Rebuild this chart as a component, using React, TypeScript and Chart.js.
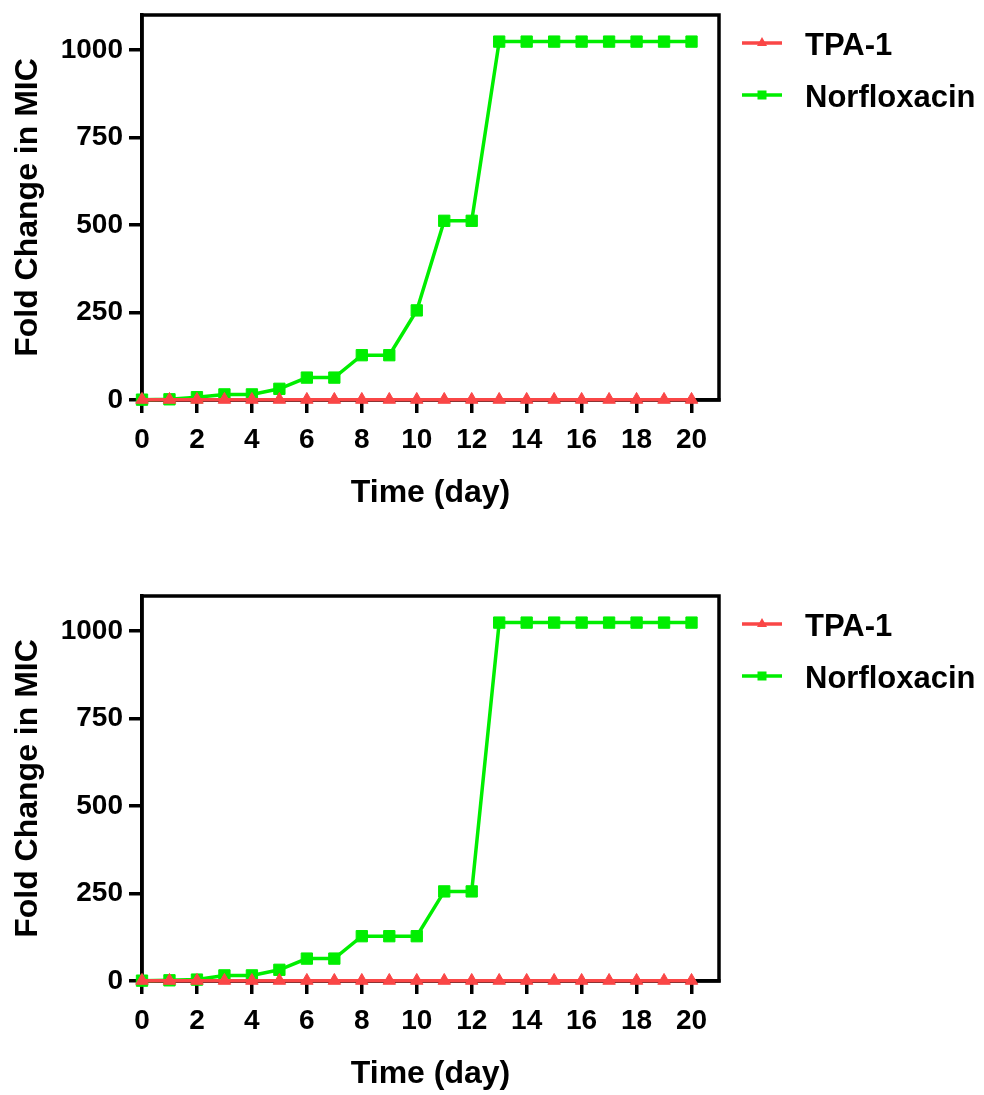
import React, { useEffect, useRef } from 'react';
import { Chart, registerables } from 'chart.js';

Chart.register(...registerables);

// ---------- data ----------
const days = [0, 1, 2, 3, 4, 5, 6, 7, 8, 9, 10, 11, 12, 13, 14, 15, 16, 17, 18, 19, 20];
const xTicks = [0, 2, 4, 6, 8, 10, 12, 14, 16, 18, 20];
const yTicks = [0, 250, 500, 750, 1000];
const seriesNames = ['TPA-1', 'Norfloxacin'];

const tpa1Top = [1, 1, 1, 1, 1, 1, 1, 1, 1, 1, 1, 1, 1, 1, 1, 1, 1, 1, 1, 1, 1];
const norfloxacinTop = [1, 2, 8, 16, 16, 32, 64, 64, 128, 128, 256, 512, 512, 1024, 1024, 1024, 1024, 1024, 1024, 1024, 1024];

const tpa1Bottom = [1, 1, 1, 1, 1, 1, 1, 1, 1, 1, 1, 1, 1, 1, 1, 1, 1, 1, 1, 1, 1];
const norfloxacinBottom = [1, 2, 4, 16, 16, 32, 64, 64, 128, 128, 128, 256, 256, 1024, 1024, 1024, 1024, 1024, 1024, 1024, 1024];

const xTitle = 'Time (day)';
const yTitle = 'Fold Change in MIC';

// ---------- style ----------
const FONT = '"Liberation Sans", Arial, Helvetica, sans-serif';
const RED = 'rgb(250, 70, 70)';
const GREEN = 'rgb(0, 238, 0)';
const CANVAS_W = 984;
const CANVAS_H = 581;
const AXIS_W = 3.5;

const framePlugin = {
  id: 'frame',
  beforeDatasetsDraw(chart: any) {
    const { ctx, chartArea } = chart;
    const { left, top, right, bottom } = chartArea;
    ctx.save();
    ctx.strokeStyle = '#000';
    ctx.lineWidth = AXIS_W;
    ctx.lineJoin = 'miter';
    ctx.strokeRect(left, top, right - left, bottom - top);
    ctx.restore();
  },
};

const legendPlugin = {
  id: 'customLegend',
  afterDraw(chart: any) {
    const { ctx } = chart;
    ctx.save();
    chart.data.datasets.forEach((ds: any, i: number) => {
      const y = 43 + 52 * i;
      ctx.strokeStyle = ds.borderColor;
      ctx.lineWidth = 3.5;
      ctx.beginPath();
      ctx.moveTo(742, y);
      ctx.lineTo(782, y);
      ctx.stroke();
      ctx.fillStyle = ds.borderColor;
      if (ds.pointStyle === 'triangle') {
        ctx.beginPath();
        ctx.moveTo(762, y - 6);
        ctx.lineTo(767, y + 3);
        ctx.lineTo(757, y + 3);
        ctx.closePath();
        ctx.fill();
      } else {
        ctx.fillRect(757.5, y - 4.5, 9, 9);
      }
      ctx.fillStyle = '#000';
      ctx.font = `bold 31px ${FONT}`;
      ctx.textAlign = 'left';
      ctx.textBaseline = 'alphabetic';
      ctx.fillText(ds.label, 805, y + 12);
    });
    ctx.restore();
  },
};

function axisCommon() {
  return {
    grid: {
      display: true,
      drawOnChartArea: false,
      drawTicks: true,
      tickLength: 13,
      tickWidth: AXIS_W,
      tickColor: '#000',
      lineWidth: AXIS_W,
      color: '#000',
    },
    border: { display: true, width: AXIS_W, color: '#000' },
  };
}

function zeroPad(s: any) {
  s.paddingTop = 0;
  s.paddingBottom = 0;
  s.paddingLeft = 0;
  s.paddingRight = 0;
}

function ChartPanel({ tpa, nor, top }: { tpa: number[]; nor: number[]; top: number }) {
  const ref = useRef<HTMLCanvasElement | null>(null);

  useEffect(() => {
    if (!ref.current) return;
    const chart = new Chart(ref.current, {
      type: 'line',
      data: {
        datasets: [
          {
            label: seriesNames[0],
            data: days.map((d, i) => ({ x: d, y: tpa[i] })),
            borderColor: RED,
            backgroundColor: RED,
            borderWidth: 3.5,
            pointStyle: 'triangle',
            pointRadius: 7.2,
            pointBorderWidth: 1,
            pointBackgroundColor: RED,
            pointBorderColor: RED,
            tension: 0,
            clip: false,
          } as any,
          {
            label: seriesNames[1],
            data: days.map((d, i) => ({ x: d, y: nor[i] })),
            borderColor: GREEN,
            backgroundColor: GREEN,
            borderWidth: 3.5,
            pointStyle: 'rect',
            pointRadius: 8,
            pointBorderWidth: 1,
            pointBackgroundColor: GREEN,
            pointBorderColor: GREEN,
            tension: 0,
            clip: false,
          } as any,
        ],
      },
      options: {
        animation: false,
        responsive: false,
        maintainAspectRatio: false,
        devicePixelRatio: 1,
        layout: { padding: { top: 15, right: 265, left: 0, bottom: 0 } },
        plugins: {
          legend: { display: false },
          tooltip: { enabled: false },
        },
        scales: {
          x: {
            type: 'linear',
            min: 0,
            max: 21,
            afterFit: (s: any) => {
              s.height = 181;
              zeroPad(s);
            },
            afterBuildTicks: (s: any) => {
              s.ticks = xTicks.map((v) => ({ value: v }));
            },
            ...axisCommon(),
            ticks: {
              color: '#000',
              font: { family: FONT, size: 28, weight: 'bold' },
              padding: 10,
              maxRotation: 0,
              autoSkip: false,
              callback: (v: any) => String(v),
            },
            title: {
              display: true,
              text: xTitle,
              color: '#000',
              font: { family: FONT, size: 32, weight: 'bold' },
              padding: { top: 0, bottom: 69 },
            },
          },
          y: {
            type: 'linear',
            min: 0,
            max: 1100,
            afterFit: (s: any) => {
              s.width = 142;
              zeroPad(s);
            },
            afterBuildTicks: (s: any) => {
              s.ticks = yTicks.map((v) => ({ value: v }));
            },
            ...axisCommon(),
            ticks: {
              color: '#000',
              font: { family: FONT, size: 28, weight: 'bold' },
              padding: 6,
              autoSkip: false,
              callback: (v: any) => String(v),
            },
            title: {
              display: true,
              text: yTitle,
              color: '#000',
              font: { family: FONT, size: 32, weight: 'bold' },
              padding: { top: 9, bottom: 0 },
            },
          },
        },
      } as any,
      plugins: [framePlugin, legendPlugin],
    });
    return () => chart.destroy();
  }, [tpa, nor]);

  return (
    <canvas
      ref={ref}
      width={CANVAS_W}
      height={CANVAS_H}
      style={{ position: 'absolute', left: 0, top, width: CANVAS_W, height: CANVAS_H, display: 'block' }}
    />
  );
}

export default function App() {
  return (
    <div
      style={{
        position: 'absolute',
        left: 0,
        top: 0,
        width: 984,
        height: 1095,
        overflow: 'hidden',
        background: '#fff',
      }}
    >
      <ChartPanel tpa={tpa1Top} nor={norfloxacinTop} top={0} />
      <ChartPanel tpa={tpa1Bottom} nor={norfloxacinBottom} top={581} />
    </div>
  );
}
